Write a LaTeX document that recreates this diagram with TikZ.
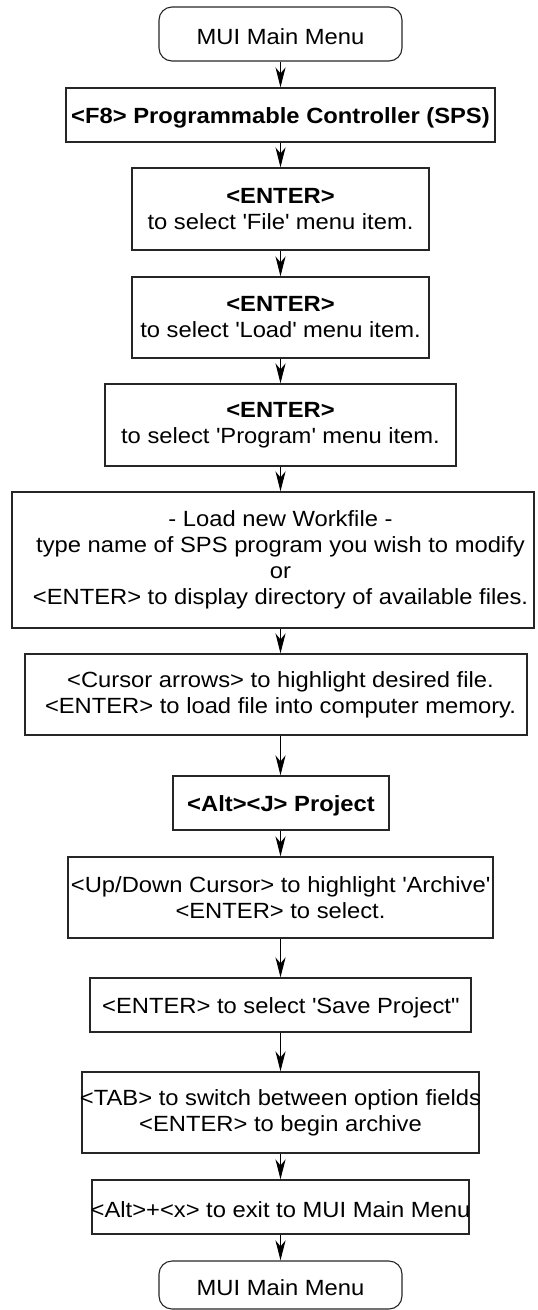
\documentclass[tikz,border=0pt]{standalone}
\usepackage{fontspec}
\setmainfont{Liberation Sans}[FakeStretch=1.08]
\usetikzlibrary{arrows.meta}
\newcommand{\sq}{\textquotesingle}
\newcommand{\dq}{\textquotedbl}
\begin{document}
\begin{tikzpicture}[x=1pt,y=-1pt,
  stepbox/.style={draw=black!85, line width=1.1pt, inner sep=0pt},
  termbox/.style={stepbox, rounded corners=13pt},
  boxtext/.style={inner sep=0pt, align=center, font=\fontsize{22}{26}\selectfont},
  oneline/.style={boxtext, yshift=-3pt},
  flow/.style={draw=black, line width=1pt, -{Stealth[length=20pt,width=10pt,inset=6pt]}}
]
\useasboundingbox (0,0) rectangle (538,1310);
\coordinate (spine) at (280.5,0);

% boxes
\node[termbox, minimum width=243pt, minimum height=54pt] (top)  at (280.5,34) {};
\node[stepbox, minimum width=429pt, minimum height=54pt] (f8)   at (280.5,115) {};
\node[stepbox, minimum width=297pt, minimum height=82pt] (file) at (280.5,209) {};
\node[stepbox, minimum width=297pt, minimum height=81pt] (load) at (280.5,317.5) {};
\node[stepbox, minimum width=351pt, minimum height=82pt] (prog) at (280.5,425) {};
\node[stepbox, minimum width=522pt, minimum height=136pt] (work) at (273,560) {};
\node[stepbox, minimum width=502pt, minimum height=81pt] (pick) at (276,694.5) {};
\node[stepbox, minimum width=216pt, minimum height=54pt] (proj) at (281,803) {};
\node[stepbox, minimum width=425pt, minimum height=81pt] (arch) at (280.5,897.5) {};
\node[stepbox, minimum width=381pt, minimum height=54pt] (save) at (280.5,1005) {};
\node[stepbox, minimum width=397pt, minimum height=81pt] (opts) at (280.5,1112.5) {};
\node[stepbox, minimum width=377pt, minimum height=54pt] (quit) at (280.5,1207) {};
\node[termbox, minimum width=243pt, minimum height=48pt] (bot)  at (280.5,1285) {};

% texts
\node[oneline] (top-t)  at (top.center) {MUI Main Menu};
\node[oneline] (f8-t)   at (f8.center) {\textbf{<F8> Programmable Controller (SPS)}};
\node[boxtext] (file-t) at (file.center) {\textbf{<ENTER>}\\to select \sq File\sq{} menu item.};
\node[boxtext] (load-t) at (load.center) {\textbf{<ENTER>}\\to select \sq Load\sq{} menu item.};
\node[boxtext] (prog-t) at (prog.center) {\textbf{<ENTER>}\\to select \sq Program\sq{} menu item.};
\node[boxtext] (work-t) at (280.5,560) {- Load new Workfile -\\type name of SPS program you wish to modify\\or\\<ENTER> to display directory of available files.};
\node[boxtext] (pick-t) at (280.5,694.5) {<Cursor arrows> to highlight desired file.\\<ENTER> to load file into computer memory.};
\node[oneline] (proj-t) at (proj.center) {\textbf{<Alt><J> Project}};
\node[boxtext] (arch-t) at (arch.center) {<Up/Down Cursor> to highlight \sq Archive\sq\\<ENTER> to select.};
\node[oneline] (save-t) at (save.center) {<ENTER> to select \sq Save Project\dq};
\node[boxtext] (opts-t) at (opts.center) {<TAB> to switch between option fields\\<ENTER> to begin archive};
\node[oneline] (quit-t) at (quit.center) {<Alt>+<x> to exit to MUI Main Menu};
\node[oneline] (bot-t)  at (bot.center) {MUI Main Menu};

% connectors
\foreach \a/\b in {top/f8, f8/file, file/load, load/prog, prog/work, work/pick,
                   pick/proj, proj/arch, arch/save, save/opts, opts/quit, quit/bot}
  \draw[flow] (\a.south -| spine) -- (\b.north -| spine);
\end{tikzpicture}
\end{document}
